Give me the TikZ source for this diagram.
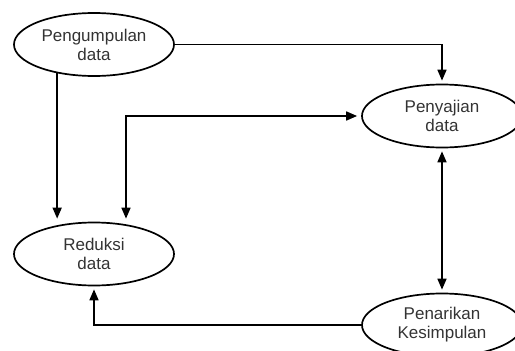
\documentclass[tikz,border=0pt]{standalone}
\usepackage{fontspec}
\setmainfont{Liberation Sans}
\usetikzlibrary{arrows.meta,positioning,shapes.geometric}

\begin{document}
\begin{tikzpicture}[x=1pt,y=-1pt,shorten >=3pt,node distance=3cm,on grid,auto,
    >={Triangle[length=11pt,width=9pt]},line width=1.7pt,
    tahap/.style={draw,ellipse,minimum width=160pt,minimum height=63pt,inner sep=0pt,
      align=center,text=black!80,font=\fontsize{17}{19}\selectfont}]
   \useasboundingbox (0,0) rectangle (515,351);
   \node[tahap] (kumpul) at (94,44.5) {Pengumpulan\\data};
   \node[tahap] (reduksi) [below=209.5pt of kumpul] {Reduksi\\data};
   \node[tahap] (saji) [below right=71.5pt and 348pt of kumpul] {Penyajian\\data};
   \node[tahap] (tarik) [below=209pt of saji] {Penarikan\\Kesimpulan};
   \coordinate (belok) at (126,116);
   \draw[->] (kumpul.east) -| (saji.north);
   \draw[->] (kumpul.218) -- (kumpul.218 |- reduksi.north);
   \draw[<->,shorten <=4pt] (saji.west) -- (belok) -- (belok |- reduksi.north);
   \draw[<->,shorten <=3pt] (saji.south) -- (tarik.north);
   \draw[->] (tarik.west) -| (reduksi.south);
\end{tikzpicture}
\end{document}
